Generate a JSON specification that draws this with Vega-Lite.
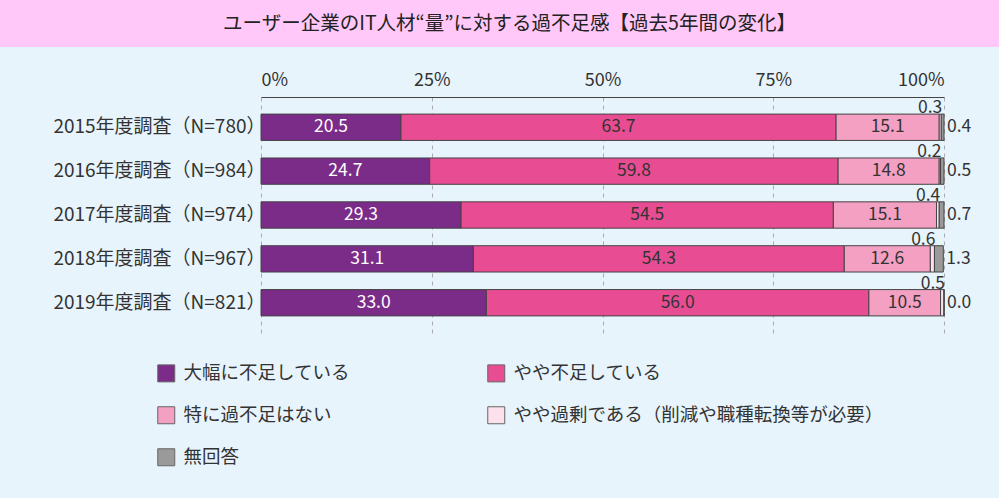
{
  "$schema": "https://vega.github.io/schema/vega-lite/v6.json",
  "background": "#E8F4FC",
  "padding": {"left": 0, "top": 0, "right": 0, "bottom": 30},
  "columns": 1,
  "spacing": 24,
  "config": {"font": "Noto Sans CJK JP", "view": {"stroke": null}},
  "datasets": {
    "d": [
      {"year": "2015年度調査（N=780）", "cat": "大幅に不足している", "k": 1, "v": 20.5},
      {"year": "2015年度調査（N=780）", "cat": "やや不足している", "k": 2, "v": 63.7},
      {"year": "2015年度調査（N=780）", "cat": "特に過不足はない", "k": 3, "v": 15.1},
      {"year": "2015年度調査（N=780）", "cat": "やや過剰である（削減や職種転換等が必要）", "k": 4, "v": 0.3},
      {"year": "2015年度調査（N=780）", "cat": "無回答", "k": 5, "v": 0.4},
      {"year": "2016年度調査（N=984）", "cat": "大幅に不足している", "k": 1, "v": 24.7},
      {"year": "2016年度調査（N=984）", "cat": "やや不足している", "k": 2, "v": 59.8},
      {"year": "2016年度調査（N=984）", "cat": "特に過不足はない", "k": 3, "v": 14.8},
      {"year": "2016年度調査（N=984）", "cat": "やや過剰である（削減や職種転換等が必要）", "k": 4, "v": 0.2},
      {"year": "2016年度調査（N=984）", "cat": "無回答", "k": 5, "v": 0.5},
      {"year": "2017年度調査（N=974）", "cat": "大幅に不足している", "k": 1, "v": 29.3},
      {"year": "2017年度調査（N=974）", "cat": "やや不足している", "k": 2, "v": 54.5},
      {"year": "2017年度調査（N=974）", "cat": "特に過不足はない", "k": 3, "v": 15.1},
      {"year": "2017年度調査（N=974）", "cat": "やや過剰である（削減や職種転換等が必要）", "k": 4, "v": 0.4},
      {"year": "2017年度調査（N=974）", "cat": "無回答", "k": 5, "v": 0.7},
      {"year": "2018年度調査（N=967）", "cat": "大幅に不足している", "k": 1, "v": 31.1},
      {"year": "2018年度調査（N=967）", "cat": "やや不足している", "k": 2, "v": 54.3},
      {"year": "2018年度調査（N=967）", "cat": "特に過不足はない", "k": 3, "v": 12.6},
      {"year": "2018年度調査（N=967）", "cat": "やや過剰である（削減や職種転換等が必要）", "k": 4, "v": 0.6},
      {"year": "2018年度調査（N=967）", "cat": "無回答", "k": 5, "v": 1.3},
      {"year": "2019年度調査（N=821）", "cat": "大幅に不足している", "k": 1, "v": 33.0},
      {"year": "2019年度調査（N=821）", "cat": "やや不足している", "k": 2, "v": 56.0},
      {"year": "2019年度調査（N=821）", "cat": "特に過不足はない", "k": 3, "v": 10.5},
      {"year": "2019年度調査（N=821）", "cat": "やや過剰である（削減や職種転換等が必要）", "k": 4, "v": 0.5},
      {"year": "2019年度調査（N=821）", "cat": "無回答", "k": 5, "v": 0.0}
    ]
  },
  "concat": [
    {
      "width": 683,
      "height": 47,
      "data": {"values": [{"t": "ユーザー企業のIT人材“量”に対する過不足感【過去5年間の変化】"}]},
      "layer": [
        {
          "mark": {"type": "rect", "color": "#FFC8F8", "stroke": null},
          "encoding": {
            "x": {"datum": -38.21, "type": "quantitative", "scale": {"domain": [0, 100], "nice": false, "zero": false}, "axis": null},
            "x2": {"datum": 108.05}
          }
        },
        {
          "mark": {"type": "text", "fontSize": 19.5, "color": "#222222", "dx": -93},
          "encoding": {"text": {"field": "t", "type": "nominal"}}
        }
      ]
    },
    {
      "width": 683,
      "height": 236,
      "data": {"name": "d"},
      "transform": [
        {"stack": "v", "groupby": ["year"], "sort": [{"field": "k", "order": "ascending"}], "as": ["v0", "v1"]}
      ],
      "encoding": {
        "y": {
          "field": "year",
          "type": "nominal",
          "sort": null,
          "scale": {
            "domain": ["2015年度調査（N=780）", "2016年度調査（N=984）", "2017年度調査（N=974）", "2018年度調査（N=967）", "2019年度調査（N=821）"],
            "paddingInner": 0.4,
            "paddingOuter": 0.39
          },
          "axis": {
            "title": null,
            "domain": false,
            "ticks": false,
            "labelFontSize": 19,
            "labelColor": "#333333",
            "labelPadding": -4,
            "labelLimit": 400,
            "minExtent": 261
          }
        }
      },
      "layer": [
        {
          "mark": {"type": "bar", "stroke": "#444444", "strokeWidth": 1},
          "encoding": {
            "x": {
              "field": "v0",
              "type": "quantitative",
              "scale": {"domain": [0, 100], "nice": false},
              "axis": {
                "orient": "top",
                "title": null,
                "values": [0, 25, 50, 75, 100],
                "labelExpr": "datum.value + '%'",
                "labelFlush": true,
                "labelFontSize": 18,
                "labelColor": "#333333",
                "labelPadding": 8,
                "ticks": false,
                "domain": true,
                "domainColor": "#444444",
                "grid": true,
                "gridDash": [4, 4],
                "gridColor": "#AAAAAA"
              }
            },
            "x2": {"field": "v1"},
            "color": {
              "field": "cat",
              "type": "nominal",
              "scale": {
                "domain": ["大幅に不足している", "やや不足している", "特に過不足はない", "やや過剰である（削減や職種転換等が必要）", "無回答"],
                "range": ["#7B2B88", "#E84D93", "#F3A0C3", "#FCE1ED", "#9A9A9A"]
              },
              "legend": {
                "orient": "none",
                "direction": "horizontal",
                "legendX": -104,
                "legendY": 364,
                "title": null,
                "columns": 2,
                "columnPadding": 134,
                "rowPadding": 20,
                "padding": 0,
                "symbolType": "square",
                "symbolSize": 289,
                "symbolStrokeColor": "#666666",
                "symbolStrokeWidth": 1,
                "labelFontSize": 18.5,
                "labelColor": "#333333",
                "labelOffset": 8,
                "labelLimit": 500
              }
            }
          }
        },
        {
          "transform": [
            {"filter": "datum.k <= 3"},
            {"fold": ["v0", "v1"], "as": ["edge", "pos"]},
            {"aggregate": [{"op": "mean", "field": "pos", "as": "mid"}, {"op": "max", "field": "v", "as": "v"}], "groupby": ["year", "k"]}
          ],
          "mark": {"type": "text", "fontSize": 17.5},
          "encoding": {
            "x": {"field": "mid", "type": "quantitative"},
            "text": {"field": "v", "type": "quantitative", "format": ".1f"},
            "color": {"condition": {"test": "datum.k == 1", "value": "#FFFFFF"}, "value": "#333333"}
          }
        },
        {
          "transform": [{"filter": "datum.k == 4"}],
          "mark": {"type": "text", "fontSize": 17.5, "align": "right", "baseline": "alphabetic", "dy": -14, "dx": 1, "color": "#333333"},
          "encoding": {
            "x": {"field": "v1", "type": "quantitative"},
            "text": {"field": "v", "type": "quantitative", "format": ".1f"}
          }
        },
        {
          "transform": [{"filter": "datum.k == 5"}],
          "mark": {"type": "text", "fontSize": 17.5, "align": "left", "dx": 3, "color": "#333333"},
          "encoding": {
            "x": {"field": "v1", "type": "quantitative"},
            "text": {"field": "v", "type": "quantitative", "format": ".1f"}
          }
        }
      ]
    }
  ]
}
